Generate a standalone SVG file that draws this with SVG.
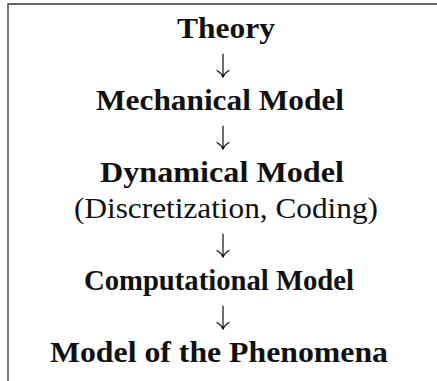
<svg xmlns="http://www.w3.org/2000/svg" width="437" height="381" viewBox="0 0 437 381">
<style>
.t{font-family:"Liberation Serif","Times New Roman",serif;font-size:28.8px;fill:#111;text-anchor:middle}
.b{font-weight:bold}
.arr{fill:none;stroke:#111;stroke-width:1.2;stroke-linecap:round;stroke-linejoin:round}
.frame{fill:none;stroke:#333;stroke-width:1.3}
</style>
<defs>
<path id="down" d="M0,-20 V3 M-6,-3.5 Q-1.5,-1 0,3.2 Q1.5,-1 6,-3.5" class="arr"/>
</defs>
<rect width="437" height="381" fill="#fff"/>
<path class="frame" d="M8,381 V4 H437"/>
<g id="theory"><text class="t b" x="226" y="38" textLength="98" lengthAdjust="spacingAndGlyphs">Theory</text></g>
<g id="mechanical"><text class="t b" x="220" y="110" textLength="248" lengthAdjust="spacingAndGlyphs">Mechanical Model</text></g>
<g id="dynamical"><text class="t b" x="222" y="182" textLength="244" lengthAdjust="spacingAndGlyphs">Dynamical Model</text><text class="t" x="226" y="218" textLength="304" lengthAdjust="spacingAndGlyphs">(Discretization, Coding)</text></g>
<g id="computational"><text class="t b" x="219" y="290" textLength="270" lengthAdjust="spacingAndGlyphs">Computational Model</text></g>
<g id="phenomena"><text class="t b" x="219" y="362" textLength="338" lengthAdjust="spacingAndGlyphs">Model of the Phenomena</text></g>
<g id="connectors">
<use href="#down" x="223" y="74"/>
<use href="#down" x="223" y="146"/>
<use href="#down" x="223" y="254"/>
<use href="#down" x="223" y="326"/>
</g>
</svg>
